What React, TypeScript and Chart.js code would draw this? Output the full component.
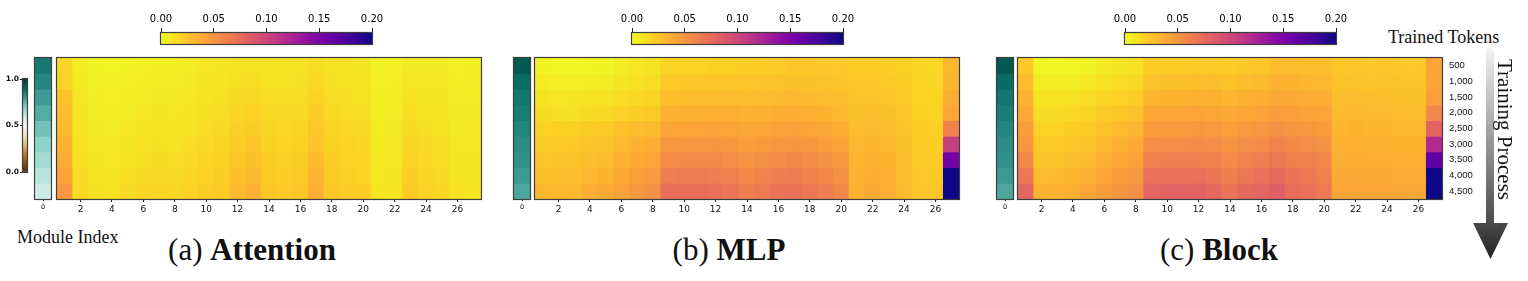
import React, { useEffect, useRef } from 'react';
import { Chart, registerables } from 'chart.js';

Chart.register(...registerables);

// ---------------- data ----------------
const columns = ['1','2','3','4','5','6','7','8','9','10','11','12','13','14','15','16','17','18','19','20','21','22','23','24','25','26','27'];
const tokens = ['500','1,000','1,500','2,000','2,500','3,000','3,500','4,000','4,500'];
const colorbarTicks = [0, 0.05, 0.1, 0.15, 0.2];
const embedTicks = [0, 0.5, 1];
const embedLabel = ['0'];

const attention = [
  [0.016,0.006,0.003,0.002,0.003,0.004,0.005,0.005,0.006,0.008,0.009,0.010,0.011,0.010,0.010,0.011,0.013,0.011,0.010,0.009,0.004,0.004,0.007,0.007,0.007,0.004,0.005],
  [0.018,0.007,0.004,0.003,0.004,0.005,0.006,0.006,0.007,0.009,0.010,0.012,0.013,0.011,0.011,0.012,0.015,0.012,0.011,0.010,0.004,0.005,0.008,0.008,0.008,0.005,0.006],
  [0.025,0.008,0.005,0.004,0.005,0.006,0.007,0.007,0.008,0.010,0.012,0.014,0.015,0.013,0.012,0.013,0.017,0.013,0.012,0.011,0.005,0.005,0.010,0.009,0.009,0.006,0.006],
  [0.028,0.009,0.006,0.005,0.006,0.008,0.009,0.008,0.010,0.012,0.013,0.016,0.018,0.015,0.014,0.015,0.020,0.015,0.013,0.012,0.006,0.006,0.012,0.011,0.010,0.007,0.007],
  [0.030,0.010,0.007,0.006,0.008,0.009,0.010,0.010,0.011,0.013,0.015,0.019,0.021,0.017,0.015,0.017,0.023,0.017,0.015,0.014,0.006,0.007,0.014,0.012,0.011,0.007,0.008],
  [0.034,0.011,0.008,0.007,0.009,0.011,0.012,0.011,0.013,0.015,0.017,0.021,0.024,0.019,0.017,0.019,0.026,0.019,0.017,0.016,0.007,0.008,0.016,0.014,0.012,0.008,0.008],
  [0.037,0.012,0.009,0.008,0.010,0.012,0.014,0.013,0.015,0.017,0.019,0.024,0.027,0.021,0.019,0.021,0.029,0.021,0.018,0.017,0.008,0.008,0.018,0.015,0.013,0.009,0.009],
  [0.041,0.014,0.010,0.009,0.012,0.014,0.015,0.014,0.016,0.018,0.020,0.027,0.030,0.022,0.020,0.022,0.032,0.022,0.019,0.018,0.008,0.009,0.020,0.016,0.014,0.009,0.009],
  [0.049,0.015,0.012,0.011,0.014,0.016,0.017,0.016,0.018,0.020,0.022,0.030,0.034,0.024,0.022,0.024,0.035,0.024,0.021,0.020,0.009,0.010,0.022,0.018,0.016,0.010,0.010],
];

const mlp = [
  [0.003,0.001,0.001,0.002,0.003,0.006,0.008,0.010,0.017,0.018,0.018,0.019,0.019,0.020,0.021,0.022,0.024,0.024,0.023,0.023,0.021,0.021,0.020,0.019,0.016,0.015,0.031],
  [0.006,0.004,0.004,0.005,0.006,0.009,0.011,0.013,0.022,0.023,0.023,0.024,0.024,0.024,0.025,0.026,0.027,0.027,0.026,0.025,0.023,0.023,0.022,0.021,0.017,0.016,0.032],
  [0.010,0.008,0.009,0.010,0.011,0.013,0.015,0.017,0.027,0.028,0.028,0.029,0.029,0.028,0.029,0.030,0.031,0.030,0.029,0.028,0.025,0.025,0.024,0.022,0.018,0.017,0.036],
  [0.014,0.012,0.012,0.014,0.015,0.018,0.020,0.022,0.033,0.034,0.034,0.035,0.035,0.033,0.034,0.036,0.036,0.035,0.033,0.031,0.027,0.028,0.027,0.024,0.019,0.018,0.040],
  [0.018,0.019,0.019,0.021,0.022,0.026,0.028,0.030,0.040,0.041,0.041,0.042,0.041,0.039,0.040,0.042,0.043,0.041,0.039,0.036,0.029,0.030,0.029,0.025,0.020,0.019,0.062],
  [0.021,0.022,0.023,0.025,0.026,0.030,0.033,0.036,0.048,0.049,0.049,0.050,0.048,0.045,0.047,0.049,0.050,0.048,0.045,0.042,0.031,0.032,0.031,0.027,0.021,0.020,0.105],
  [0.024,0.025,0.026,0.028,0.030,0.034,0.038,0.041,0.056,0.057,0.057,0.057,0.055,0.051,0.054,0.056,0.058,0.056,0.052,0.048,0.032,0.034,0.033,0.028,0.022,0.021,0.155],
  [0.027,0.028,0.028,0.031,0.033,0.038,0.043,0.047,0.064,0.065,0.065,0.064,0.062,0.057,0.061,0.063,0.065,0.062,0.058,0.053,0.033,0.036,0.035,0.029,0.023,0.022,0.200],
  [0.031,0.030,0.031,0.036,0.038,0.042,0.048,0.052,0.073,0.073,0.073,0.071,0.069,0.063,0.066,0.070,0.071,0.068,0.064,0.058,0.034,0.038,0.036,0.030,0.024,0.024,0.200],
];

const block = [
  [0.023,0.002,0.001,0.002,0.003,0.007,0.009,0.011,0.020,0.021,0.021,0.022,0.022,0.021,0.023,0.024,0.028,0.029,0.028,0.028,0.024,0.024,0.023,0.024,0.023,0.023,0.041],
  [0.028,0.006,0.005,0.006,0.008,0.011,0.013,0.015,0.026,0.027,0.027,0.028,0.028,0.026,0.028,0.030,0.033,0.033,0.032,0.031,0.026,0.026,0.025,0.026,0.025,0.025,0.041],
  [0.033,0.010,0.010,0.011,0.013,0.016,0.018,0.020,0.032,0.033,0.033,0.034,0.034,0.032,0.034,0.036,0.039,0.038,0.037,0.036,0.028,0.029,0.028,0.028,0.027,0.027,0.044],
  [0.038,0.014,0.014,0.015,0.017,0.021,0.023,0.026,0.039,0.040,0.040,0.041,0.040,0.038,0.040,0.042,0.045,0.044,0.042,0.041,0.030,0.031,0.030,0.030,0.029,0.029,0.058],
  [0.045,0.018,0.018,0.020,0.022,0.026,0.029,0.032,0.046,0.047,0.047,0.048,0.047,0.044,0.047,0.049,0.052,0.050,0.048,0.046,0.032,0.033,0.032,0.032,0.031,0.031,0.080],
  [0.050,0.022,0.022,0.024,0.026,0.031,0.035,0.038,0.054,0.055,0.055,0.056,0.055,0.051,0.054,0.056,0.060,0.057,0.055,0.052,0.034,0.035,0.034,0.034,0.033,0.033,0.120],
  [0.058,0.025,0.026,0.028,0.030,0.036,0.040,0.043,0.062,0.063,0.063,0.063,0.062,0.057,0.061,0.064,0.068,0.064,0.062,0.058,0.036,0.037,0.036,0.036,0.035,0.035,0.165],
  [0.068,0.029,0.030,0.032,0.035,0.041,0.045,0.048,0.071,0.072,0.072,0.071,0.069,0.063,0.068,0.071,0.075,0.070,0.067,0.062,0.038,0.039,0.038,0.038,0.037,0.037,0.200],
  [0.078,0.033,0.034,0.036,0.040,0.046,0.050,0.053,0.079,0.080,0.081,0.080,0.077,0.070,0.076,0.079,0.083,0.074,0.071,0.066,0.040,0.041,0.040,0.040,0.039,0.039,0.200],
];

const embedA = [0.86, 0.83, 0.79, 0.76, 0.72, 0.68, 0.65, 0.62, 0.59];
const embedB = [0.93, 0.885, 0.865, 0.852, 0.835, 0.822, 0.812, 0.795, 0.77];
const embedC = [0.93, 0.885, 0.865, 0.852, 0.835, 0.822, 0.812, 0.795, 0.77];

// ---------------- colormaps ----------------
const PLASMA: number[][] = [
  [13,8,135],[65,4,157],[106,0,168],[143,13,164],[177,42,144],[204,71,120],
  [225,100,98],[242,132,75],[252,166,54],[252,206,37],[240,249,33],
];
const BRBG: number[][] = [
  [84,48,5],[140,81,10],[191,129,45],[223,194,125],[246,232,195],[245,245,245],
  [199,234,229],[128,205,193],[53,151,143],[1,102,94],[0,60,48],
];
function sample(stops: number[][], t: number): string {
  const c = Math.max(0, Math.min(1, t)) * (stops.length - 1);
  const i = Math.min(stops.length - 2, Math.floor(c));
  const f = c - i;
  const a = stops[i], b = stops[i + 1];
  const m = (k: number) => Math.round(a[k] + (b[k] - a[k]) * f);
  return `rgb(${m(0)},${m(1)},${m(2)})`;
}
const VMAX = 0.2;
const plasmaR = (v: number) => sample(PLASMA, 1 - v / VMAX);
const brbg = (v: number) => sample(BRBG, v);

// ---------------- plugins ----------------
const framePlugin = {
  id: 'frame',
  afterDatasetsDraw(chart: any) {
    const { ctx, chartArea: a } = chart;
    ctx.save();
    ctx.strokeStyle = '#3e3e3e';
    ctx.lineWidth = 1.2;
    ctx.strokeRect(a.left - 0.5, a.top - 0.5, a.right - a.left + 1, a.bottom - a.top + 1);
    ctx.restore();
  },
};

const SANS = 'DejaVu Sans';
const PAD = 8; // canvas margin around heat cells
const AXIS_H = 22;
const RIGHT_W = 46;

function heatConfig(values: number[][], labels: string[], colorFn: (v: number) => string, tickFont: number, rightLabels: boolean, everyTick: boolean): any {
  const y: any = {
    stacked: true,
    reverse: true,
    min: 0,
    max: values.length,
    display: rightLabels,
    position: 'right',
  };
  if (rightLabels) {
    Object.assign(y, {
      grid: { display: true, drawOnChartArea: false, tickLength: 7, tickColor: 'rgba(0,0,0,0)' },
      border: { display: false },
      afterBuildTicks: (s: any) => { s.ticks = tokens.map((_t, i) => ({ value: i + 0.5 })); },
      ticks: {
        autoSkip: false,
        padding: 0,
        color: '#111',
        font: { family: 'Liberation Sans', size: 9.5 },
        callback: (v: any) => tokens[Math.floor(Number(v))],
      },
      afterFit: (s: any) => { s.width = RIGHT_W; },
    });
  }
  return {
    type: 'bar',
    data: {
      labels,
      datasets: values.map((row, r) => ({
        label: tokens[r],
        data: row.map(() => 1),
        backgroundColor: row.map((v) => colorFn(v)),
        borderWidth: 0,
        barPercentage: 1,
        categoryPercentage: 1,
      })),
    },
    options: {
      responsive: false,
      animation: false,
      events: [],
      layout: { padding: { left: PAD, right: rightLabels ? 0 : PAD, top: PAD, bottom: 0 } },
      plugins: { legend: { display: false }, tooltip: { enabled: false } },
      scales: {
        x: {
          stacked: true,
          grid: {
            display: true,
            drawOnChartArea: false,
            offset: false,
            tickLength: everyTick ? 2 : 3,
            tickWidth: 1,
            tickColor: (c: any) => (everyTick || c.index % 2 === 1 ? '#222' : 'rgba(0,0,0,0)'),
          },
          border: { display: false },
          ticks: {
            autoSkip: false,
            maxRotation: 0,
            padding: 2,
            color: '#111',
            font: { family: SANS, size: tickFont },
            callback: (_v: any, i: number) => (everyTick || i % 2 === 1 ? labels[i] : ''),
          },
          afterFit: (s: any) => { s.height = AXIS_H; },
        },
        y,
      },
    },
    plugins: [framePlugin],
  };
}

function colorbarConfig(): any {
  return {
    type: 'bar',
    data: {
      labels: ['scale'],
      datasets: [{
        data: [[colorbarTicks[0], colorbarTicks[colorbarTicks.length - 1]]],
        backgroundColor: (c: any) => {
          const a = c.chart.chartArea;
          if (!a) return plasmaR(0.1);
          const g = c.chart.ctx.createLinearGradient(a.left, 0, a.right, 0);
          for (let i = 0; i <= 40; i++) g.addColorStop(i / 40, plasmaR((i / 40) * VMAX));
          return g;
        },
        borderWidth: 0,
        barPercentage: 1,
        categoryPercentage: 1,
      }],
    },
    options: {
      indexAxis: 'y',
      responsive: false,
      animation: false,
      events: [],
      layout: { padding: { left: 18, right: 18, top: 0, bottom: 2 } },
      plugins: { legend: { display: false }, tooltip: { enabled: false } },
      scales: {
        x: {
          type: 'linear',
          position: 'top',
          min: 0,
          max: VMAX,
          grid: { display: true, drawOnChartArea: false, tickLength: 5, tickColor: '#222', tickWidth: 1 },
          border: { display: false },
          afterBuildTicks: (s: any) => { s.ticks = colorbarTicks.map((v) => ({ value: v })); },
          ticks: {
            padding: 3,
            color: '#000',
            font: { family: SANS, size: 10 },
            callback: (v: any) => Number(v).toFixed(2),
          },
          afterFit: (s: any) => { s.height = 28; },
        },
        y: { type: 'category', display: false },
      },
    },
    plugins: [framePlugin],
  };
}

function embedBarConfig(): any {
  return {
    type: 'bar',
    data: {
      labels: ['scale'],
      datasets: [{
        data: [[embedTicks[0], embedTicks[embedTicks.length - 1]]],
        backgroundColor: (c: any) => {
          const a = c.chart.chartArea;
          if (!a) return brbg(0.5);
          const g = c.chart.ctx.createLinearGradient(0, a.bottom, 0, a.top);
          for (let i = 0; i <= 20; i++) g.addColorStop(i / 20, brbg(i / 20));
          return g;
        },
        borderWidth: 0,
        barPercentage: 1,
        categoryPercentage: 1,
      }],
    },
    options: {
      responsive: false,
      animation: false,
      events: [],
      layout: { padding: { left: 0, right: 3, top: 7, bottom: 8 } },
      plugins: { legend: { display: false }, tooltip: { enabled: false } },
      scales: {
        x: { type: 'category', display: false },
        y: {
          type: 'linear',
          position: 'left',
          min: 0,
          max: 1,
          grid: { display: true, drawOnChartArea: false, tickLength: 3, tickColor: '#222' },
          border: { display: false },
          afterBuildTicks: (s: any) => { s.ticks = embedTicks.map((v) => ({ value: v })); },
          ticks: {
            padding: 1,
            color: '#111',
            font: { family: SANS, size: 7.5, weight: 'bold' },
            callback: (v: any) => Number(v).toFixed(1),
          },
          afterFit: (s: any) => { s.width = 23; },
        },
      },
    },
    plugins: [framePlugin],
  };
}

function ChartBox({ left, top, width, height, make }: { left: number; top: number; width: number; height: number; make: () => any }) {
  const ref = useRef<HTMLCanvasElement>(null);
  useEffect(() => {
    const chart = new Chart(ref.current as HTMLCanvasElement, make());
    return () => chart.destroy();
  }, []);
  return (
    <canvas
      ref={ref}
      width={width}
      height={height}
      style={{ position: 'absolute', left, top, width, height }}
    />
  );
}

const HEAT_TOP = 58;
const HEAT_W = 424;
const HEAT_H = 141;
const EMB_W = 16;

function Panel({ heatLeft, embedLeft, cbLeft, values, embed, right }: { heatLeft: number; embedLeft: number; cbLeft: number; values: number[][]; embed: number[]; right: boolean }) {
  return (
    <>
      <ChartBox left={cbLeft - 18} top={5} width={211 + 36} height={41} make={colorbarConfig} />
      <ChartBox
        left={embedLeft - PAD}
        top={HEAT_TOP - PAD}
        width={EMB_W + 2 * PAD}
        height={HEAT_H + PAD + AXIS_H}
        make={() => heatConfig(embed.map((v) => [v]), embedLabel, brbg, 6.5, false, true)}
      />
      <ChartBox
        left={heatLeft - PAD}
        top={HEAT_TOP - PAD}
        width={HEAT_W + PAD + (right ? RIGHT_W : PAD)}
        height={HEAT_H + PAD + AXIS_H}
        make={() => heatConfig(values, columns, plasmaR, 9, right, false)}
      />
    </>
  );
}

const serif = 'Liberation Serif, Times New Roman, serif';

export default function App() {
  return (
    <div style={{ position: 'fixed', left: 0, top: 0, width: 1528, height: 281, background: '#fff', overflow: 'hidden', fontFamily: serif, color: '#111' }}>
      <ChartBox left={0} top={72} width={30} height={108} make={embedBarConfig} />
      <Panel heatLeft={57} embedLeft={35} cbLeft={161} values={attention} embed={embedA} right={false} />
      <Panel heatLeft={535} embedLeft={514} cbLeft={632} values={mlp} embed={embedB} right={false} />
      <Panel heatLeft={1018} embedLeft={997} cbLeft={1125} values={block} embed={embedC} right={true} />

      <div style={{ position: 'absolute', left: 17, top: 228, fontSize: 18, lineHeight: '18px', whiteSpace: 'nowrap' }}>Module Index</div>
      <div style={{ position: 'absolute', left: 52, width: 400, top: 234, fontSize: 31, lineHeight: '31px', textAlign: 'center', whiteSpace: 'nowrap' }}>(a) <b>Attention</b></div>
      <div style={{ position: 'absolute', left: 529, width: 400, top: 234, fontSize: 31, lineHeight: '31px', textAlign: 'center', whiteSpace: 'nowrap' }}>(b) <b>MLP</b></div>
      <div style={{ position: 'absolute', left: 1019, width: 400, top: 234, fontSize: 31, lineHeight: '31px', textAlign: 'center', whiteSpace: 'nowrap' }}>(c) <b>Block</b></div>

      <div style={{ position: 'absolute', left: 1388, top: 28, fontSize: 18, lineHeight: '18px', whiteSpace: 'nowrap' }}>Trained Tokens</div>
      <div style={{ position: 'absolute', left: 1486, top: 48, width: 8, height: 176, borderRadius: '4px 4px 0 0', background: 'linear-gradient(to bottom, #f2f2f2, #4a4a4a)' }} />
      <div style={{ position: 'absolute', left: 1473, top: 223, width: 35, height: 36, background: 'linear-gradient(to bottom, #4a4a4a, #222)', clipPath: 'polygon(0 0, 100% 0, 50% 100%)' }} />
      <div style={{ position: 'absolute', left: 1494, top: 59, width: 21, fontSize: 21, lineHeight: '21px', writingMode: 'vertical-rl', whiteSpace: 'nowrap' }}>Training Process</div>
    </div>
  );
}
